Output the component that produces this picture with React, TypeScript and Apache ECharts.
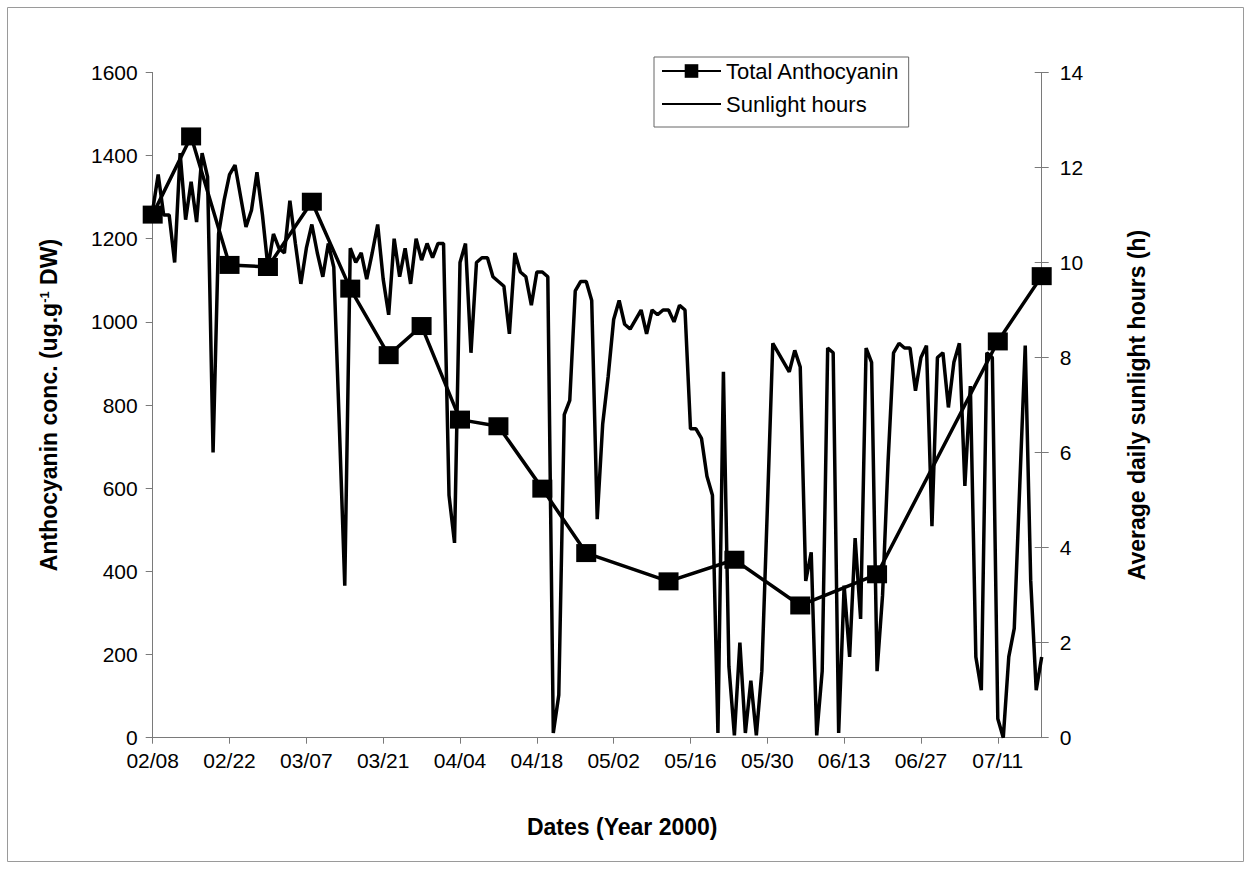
import React, { useEffect, useRef } from "react";
import * as echarts from "echarts";

// ---- Data ----
const YEAR = 2000;
const axisStartDate = "02/08";
const axisEndDate = "07/19";

const anthocyaninDates = [
  "02/08", "02/15", "02/22", "02/29", "03/08", "03/15", "03/22", "03/28", "04/04",
  "04/11", "04/19", "04/27", "05/12", "05/24", "06/05", "06/19", "07/11", "07/19",
];
const anthocyaninValues = [
  1258, 1446, 1137, 1132, 1289, 1080, 920, 990, 765,
  749, 599, 444, 376, 428, 318, 393, 953, 1110,
];

// daily sunlight hours, one value per day starting at sunlightStartDate
const sunlightStartDate = "02/08";
const sunlightHours = [
  11.1, 11.85, 11.0, 11.0, 10.0, 12.3, 10.9, 11.7, 10.85, 12.3,
  11.8, 6.0, 10.6, 11.3, 11.85, 12.05, 11.4, 10.75, 11.1, 11.9,
  11.0, 9.9, 10.6, 10.3, 10.2, 11.3, 10.4, 9.55, 10.3, 10.8,
  10.2, 9.7, 10.4, 9.9, 6.6, 3.2, 10.3, 10.0, 10.2, 9.65,
  10.2, 10.8, 9.65, 8.9, 10.5, 9.7, 10.3, 9.55, 10.5, 10.05,
  10.4, 10.1, 10.4, 10.4, 5.1, 4.1, 10.0, 10.4, 8.1, 10.0,
  10.1, 10.1, 9.7, 9.6, 9.5, 8.5, 10.2, 9.8, 9.7, 9.1,
  9.8, 9.8, 9.7, 0.1, 0.9, 6.8, 7.1, 9.4, 9.6, 9.6,
  9.2, 4.6, 6.6, 7.6, 8.8, 9.2, 8.7, 8.6, 8.8, 9.0,
  8.5, 9.0, 8.9, 9.0, 9.0, 8.75, 9.1, 9.0, 6.5, 6.5,
  6.3, 5.5, 5.1, 0.1, 7.7, 1.5, 0.05, 2.0, 0.1, 1.2,
  0.05, 1.4, 4.8, 8.3, 8.1, 7.9, 7.7, 8.15, 7.8, 3.3,
  3.9, 0.05, 1.4, 8.2, 8.1, 0.1, 3.2, 1.7, 4.2, 2.5,
  8.2, 7.9, 1.4, 3.0, 5.8, 8.1, 8.3, 8.2, 8.2, 7.3,
  8.0, 8.25, 4.45, 8.0, 8.1, 6.95, 7.9, 8.3, 5.3, 7.4,
  1.7, 1.0, 8.1, 8.0, 0.4, 0.0, 1.7, 2.3, 5.3, 8.25,
  3.3, 1.0, 1.7,
];

const seriesNames = ["Total Anthocyanin", "Sunlight hours"];
const xTitle = "Dates (Year 2000)";
const leftTitleMain = "Anthocyanin conc. (ug.g";
const leftTitleSup = "-1";
const leftTitleEnd = " DW)";
const rightTitle = "Average daily sunlight hours (h)";

// ---- helpers ----
const DAY = 86400000;
function toUTC(md: string): number {
  const [m, d] = md.split("/").map(Number);
  return Date.UTC(YEAR, m - 1, d);
}
const origin = toUTC(axisStartDate);
function dayOf(md: string): number {
  return Math.round((toUTC(md) - origin) / DAY);
}
function fmtDay(v: number): string {
  const dt = new Date(origin + v * DAY);
  const mm = String(dt.getUTCMonth() + 1).padStart(2, "0");
  const dd = String(dt.getUTCDate()).padStart(2, "0");
  return `${mm}/${dd}`;
}

const FONT = 'Arial, "Liberation Sans", Helvetica, sans-serif';
const AXIS_GREY = "#7a7a7a";

export default function App() {
  const ref = useRef<HTMLDivElement>(null);
  useEffect(() => {
    if (!ref.current) return;
    const chart = echarts.init(ref.current, undefined, { renderer: "svg" });
    const anthoData = anthocyaninDates.map((d, i) => [dayOf(d), anthocyaninValues[i]]);
    const sunStart = dayOf(sunlightStartDate);
    const sunData = sunlightHours.map((v, i) => [sunStart + i, v]);

    chart.setOption({
      animation: false,
      backgroundColor: "#fff",
      textStyle: { fontFamily: FONT, color: "#000" },
      grid: { left: 152.7, right: 209.3, top: 72.4, bottom: 133.3, containLabel: false },
      graphic: [
        {
          type: "rect",
          silent: true,
          z: -10,
          shape: { x: 7.5, y: 7.5, width: 1236, height: 854 },
          style: { fill: "none", stroke: "#9a9a9a", lineWidth: 1 },
        },
      ],
      legend: {
        orient: "vertical",
        left: 654,
        top: 57,
        itemWidth: 59,
        itemHeight: 17,
        itemGap: 11,
        padding: [3, 9, 12, 7],
        borderColor: "#666",
        borderWidth: 1,
        borderRadius: 0,
        backgroundColor: "#fff",
        textStyle: { fontSize: 22, color: "#000", fontFamily: FONT },
        data: [
          { name: seriesNames[0] },
          { name: seriesNames[1], itemStyle: { opacity: 0, color: "rgba(0,0,0,0)", borderWidth: 0 } },
        ],
      },
      xAxis: {
        type: "value",
        min: 0,
        max: dayOf(axisEndDate),
        interval: 14,
        name: xTitle,
        nameLocation: "middle",
        nameGap: 78,
        nameTextStyle: {
          fontSize: 23,
          fontWeight: "bold",
          color: "#000",
          fontFamily: FONT,
          padding: [0, 0, 0, 50],
        },
        splitLine: { show: false },
        axisLine: { show: true, lineStyle: { color: AXIS_GREY, width: 1 } },
        axisTick: { show: true, inside: false, length: 6, lineStyle: { color: AXIS_GREY } },
        axisLabel: {
          showMaxLabel: false,
          margin: 12,
          fontSize: 21,
          color: "#000",
          fontFamily: FONT,
          formatter: (v: number) => fmtDay(v),
        },
      },
      yAxis: [
        {
          type: "value",
          position: "left",
          min: 0,
          max: 1600,
          interval: 200,
          name: `{a|${leftTitleMain}}{b|${leftTitleSup}}{a|${leftTitleEnd}}`,
          nameLocation: "middle",
          nameGap: 92,
          nameTextStyle: {
            color: "#000",
            rich: {
              a: { fontSize: 23, fontWeight: "bold", fontFamily: FONT, color: "#000" },
              b: { fontSize: 13, fontWeight: "bold", fontFamily: FONT, color: "#000", verticalAlign: "top" },
            },
          },
          splitLine: { show: false },
          axisLine: { show: true, lineStyle: { color: AXIS_GREY, width: 1 } },
          axisTick: { show: true, inside: false, length: 7, lineStyle: { color: AXIS_GREY } },
          axisLabel: {
            margin: 15,
            fontSize: 21,
            color: "#000",
            fontFamily: FONT,
            formatter: (v: number) => String(v),
          },
        },
        {
          type: "value",
          position: "right",
          min: 0,
          max: 14,
          interval: 2,
          name: rightTitle,
          nameLocation: "middle",
          nameGap: 84,
          nameTextStyle: { fontSize: 23, fontWeight: "bold", color: "#000", fontFamily: FONT },
          splitLine: { show: false },
          axisLine: { show: true, lineStyle: { color: AXIS_GREY, width: 1 } },
          axisTick: { show: true, inside: false, length: 7, lineStyle: { color: AXIS_GREY } },
          axisLabel: {
            margin: 18,
            fontSize: 21,
            color: "#000",
            fontFamily: FONT,
            formatter: (v: number) => String(v),
          },
        },
        {
          type: "value",
          position: "right",
          min: 0,
          max: 14,
          interval: 2,
          splitLine: { show: false },
          axisLine: { show: false },
          axisTick: { show: true, inside: true, length: 7, lineStyle: { color: AXIS_GREY } },
          axisLabel: { show: false },
        },
      ],
      series: [
        {
          name: seriesNames[1],
          type: "line",
          yAxisIndex: 1,
          data: sunData,
          symbol: "none",
          showSymbol: false,
          lineStyle: { color: "#000", width: 3.5 },
          itemStyle: { color: "#000" },
          z: 2,
        },
        {
          name: seriesNames[0],
          type: "line",
          yAxisIndex: 0,
          data: anthoData,
          symbol: "rect",
          symbolSize: [20, 18],
          lineStyle: { color: "#000", width: 3.5 },
          itemStyle: { color: "#000" },
          z: 3,
        },
      ],
    });
    return () => chart.dispose();
  }, []);
  return (
    <div
      ref={ref}
      style={{ position: "absolute", left: 0, top: 0, width: 1251, height: 871, background: "#fff" }}
    />
  );
}
